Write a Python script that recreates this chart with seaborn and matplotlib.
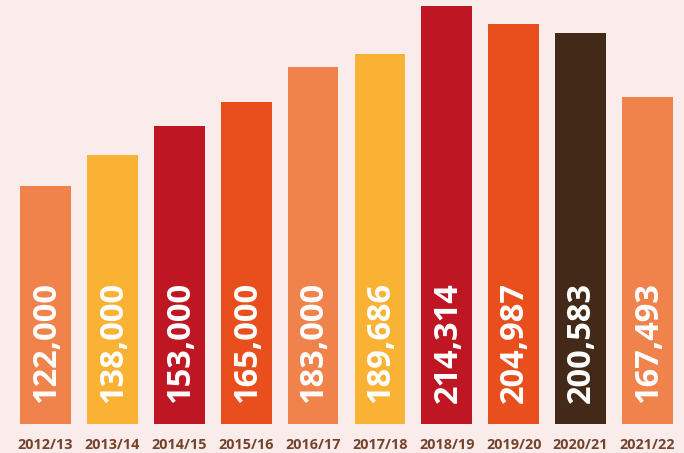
import pandas as pd
import seaborn as sns
import matplotlib.pyplot as plt

# Dados
anos = ['2012/13', '2013/14', '2014/15', '2015/16', '2016/17',
        '2017/18', '2018/19', '2019/20', '2020/21', '2021/22']
valores = [122000, 138000, 153000, 165000, 183000,
           189686, 214314, 204987, 200583, 167493]
cores = ['#f0834b', '#f9b233', '#be1622', '#e94f1c', '#f0834b',
         '#f9b233', '#be1622', '#e94f1c', '#432918', '#f0834b']

fundo = '#fbecec'
marrom = '#74432a'

dados = pd.DataFrame({'ano': anos, 'valor': valores})

sns.set_style('white')
plt.rcParams['font.family'] = ['Open Sans', 'DejaVu Sans']

fig = plt.figure(figsize=(6.84, 4.53), dpi=100, facecolor=fundo)
ax = fig.add_axes([12 / 684, 29 / 453, 669 / 684, 424 / 453])
ax.set_facecolor(fundo)

sns.barplot(data=dados, x='ano', y='valor', hue='ano', palette=cores,
            legend=False, width=0.76, saturation=1, linewidth=0, ax=ax)

ax.set_ylim(0, 217400)
ax.set_xlim(-0.5, len(anos) - 0.5)

# rótulos dentro das barras
for i, v in enumerate(valores):
    ax.text(i + 0.015, 11000, f'{v:,}', rotation=90, ha='center', va='bottom',
            color='white', fontsize=23.5, fontweight='bold')

ax.set_xlabel('')
ax.set_ylabel('')
ax.set_yticks([])
ax.tick_params(axis='x', length=0, pad=10, labelsize=10.4, labelcolor=marrom)
for lbl in ax.get_xticklabels():
    lbl.set_fontweight('bold')
sns.despine(ax=ax, left=True, bottom=True)

fig.savefig('out.png', dpi=100, facecolor=fundo)
